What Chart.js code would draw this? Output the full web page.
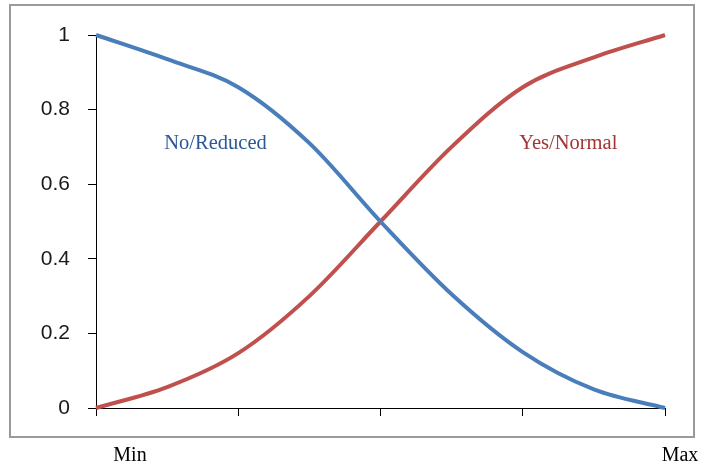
<!DOCTYPE html>
<html>
<head>
<meta charset="utf-8">
<script src="https://cdn.jsdelivr.net/npm/chart.js@4"></script>
<style>
  html, body { margin: 0; padding: 0; background: #fff; }
  #wrap { width: 701px; height: 467px; }
</style>
</head>
<body>
<div id="wrap"><canvas id="curves"></canvas></div>
<script>
// data (x runs from Min=0 to Max=1)
var xs = [0, 0.125, 0.25, 0.375, 0.5, 0.625, 0.75, 0.875, 1];
var noReduced = [1, 0.935, 0.86, 0.71, 0.5, 0.305, 0.15, 0.05, 0];
var yesNormal = [0, 0.056, 0.147, 0.30, 0.5, 0.70, 0.86, 0.94, 1];
var yTicks = [0, 0.2, 0.4, 0.6, 0.8, 1];
var xTicks = [0, 0.25, 0.5, 0.75, 1];
var endLabels = ['Min', 'Max'];

function toPoints(vals) {
    return xs.map(function (x, i) { return { x: x, y: vals[i] }; });
}

// box round the whole chart + the text labels
var extras = {
    id: 'extras',
    beforeDraw(chart) {
        const ctx = chart.ctx;
        ctx.save();
        ctx.strokeStyle = '#9a9a9a';
        ctx.lineWidth = 2;
        ctx.strokeRect(10, 5, 684, 432);
        ctx.restore();
    },
    afterDraw(chart) {
        const { ctx, scales: { x, y } } = chart;
        ctx.save();
        ctx.font = '20.5px "Liberation Serif"';
        ctx.textAlign = 'center';
        ctx.textBaseline = 'alphabetic';

        ctx.fillStyle = '#2a5896';
        ctx.fillText('No/Reduced', x.getPixelForValue(0.21), y.getPixelForValue(0.694));
        ctx.fillStyle = '#a03634';
        ctx.fillText('Yes/Normal', x.getPixelForValue(0.83), y.getPixelForValue(0.694));

        // Min / Max under the box
        ctx.font = '20px "Liberation Serif"';
        ctx.fillStyle = '#000';
        ctx.fillText(endLabels[0], x.getPixelForValue(0) + 34, 461);
        ctx.fillText(endLabels[1], x.getPixelForValue(1) + 15, 461);
        ctx.restore();
    }
};

var config = {
    type: 'line',
    data: {
        datasets: [{
            label: 'No/Reduced',
            data: toPoints(noReduced),
            borderColor: '#4a7ebb',
            borderWidth: 4,
            pointRadius: 0,
            cubicInterpolationMode: 'monotone',
            clip: false
        }, {
            label: 'Yes/Normal',
            data: toPoints(yesNormal),
            borderColor: '#c0504d',
            borderWidth: 4,
            pointRadius: 0,
            cubicInterpolationMode: 'monotone',
            clip: false
        }]
    },
    options: {
        responsive: true,
        maintainAspectRatio: false,
        animation: false,
        layout: { padding: { left: 10, right: 36, top: 35, bottom: 0 } },
        scales: {
            x: {
                type: 'linear',
                min: 0,
                max: 1,
                afterBuildTicks(scale) {
                    scale.ticks = xTicks.map(function (v) { return { value: v }; });
                },
                afterFit(scale) { scale.height = 59; },
                grid: { drawOnChartArea: false, drawTicks: true, tickLength: 8, color: '#000' },
                border: { display: true, color: '#000', width: 1 },
                ticks: { callback: function () { return ''; } }
            },
            y: {
                min: 0,
                max: 1,
                afterBuildTicks(scale) {
                    scale.ticks = yTicks.map(function (v) { return { value: v }; });
                },
                afterFit(scale) { scale.width = 86; },
                grid: { drawOnChartArea: false, drawTicks: true, tickLength: 8, color: '#000' },
                border: { display: true, color: '#000', width: 1 },
                ticks: {
                    padding: 18,
                    color: '#1a1a1a',
                    font: { family: 'Liberation Sans', size: 21 },
                    callback: function (v) { return String(Math.round(v * 10) / 10); }
                }
            }
        },
        plugins: {
            legend: { display: false },
            tooltip: { enabled: false }
        }
    },
    plugins: [extras]
};

var curves = new Chart(document.getElementById('curves'), config);
</script>
</body>
</html>
